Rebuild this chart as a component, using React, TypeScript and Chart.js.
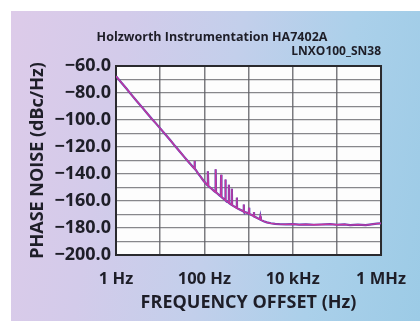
import { useEffect, useRef } from "react";
import { Chart, registerables } from "chart.js";

Chart.register(...registerables);

// Offset frequencies (Hz) of the measured trace
const freqHz = [
  1, 1.3, 1.7, 2.2, 3, 4, 5, 6.5, 8, 10, 13, 17, 22, 28, 35, 42, 50, 56, 59, 60, 61, 64, 72, 82, 95,
  108, 117, 120, 123, 135, 150, 165, 176, 180, 184, 200, 220, 236, 240, 244, 265, 290, 296, 300, 304,
  330, 355, 360, 365, 390, 415, 420, 425, 460, 540, 545, 550, 600, 700, 775, 780, 785, 900, 1020, 1030,
  1040, 1200, 1320, 1330, 1340, 1500, 1800, 1850, 1900, 2200, 2600, 3200, 4000, 5000, 7000, 10000,
  14000, 20000, 30000, 45000, 70000, 100000, 150000, 200000, 300000, 450000, 600000, 800000, 1000000,
];

// Single-sideband phase noise (dBc/Hz) at each offset
const phaseNoise = [
  -67.5, -72, -76.5, -81, -86.3, -91, -94.8, -99.3, -102.5, -106.2, -110.5, -115, -119.5, -123.5, -127.3,
  -130.4, -133.2, -135, -135.8, -130.4, -136.2, -137, -139.5, -142, -144.8,
  -147, -148.2, -138, -148.8, -150, -151.3, -152.5, -153.2, -136.5, -153.6, -154.6, -155.8, -156.6,
  -140.5, -157, -158, -159, -159.3, -144, -159.6,
  -160.5, -161.2, -148, -161.6, -162.2, -162.8, -151, -163.1, -163.8, -165.2, -157.5, -165.3, -166,
  -167, -167.8, -162.5, -168, -168.6, -169.3, -165, -169.5, -170.5, -171.3, -168.2, -171.5, -172.3,
  -173.6, -171.5, -174, -175, -175.8, -176.5, -176.9, -177.2, -177.3, -177.2, -177.5, -177.3, -177.6,
  -177.4, -177.2, -177.6, -177.3, -177.8, -177.5, -177.9, -177.3, -176.8, -176.5,
];

const xTickValues = [1, 10, 100, 1000, 10000, 100000, 1000000];
const xTickLabels = ["1 Hz", "", "100 Hz", "", "10 kHz", "", "1 MHz"];
const yTickValues = [-60, -80, -100, -120, -140, -160, -180, -200];
const yTickLabels = ["−60.0", "−80.0", "−100.0", "−120.0", "−140.0", "−160.0", "−180.0", "−200.0"];

const chartTitle = "Holzworth Instrumentation HA7402A";
const chartSubtitle = "LNXO100_SN38";
const yAxisTitle = "PHASE NOISE (dBc/Hz)";
const xAxisTitle = "FREQUENCY OFFSET (Hz)";

const FONT = "'Open Sans', 'DejaVu Sans', sans-serif";
const INK = "#1e1e28";

// White plot face, dark frame and the two header lines
const framePlugin = {
  id: "frame",
  beforeDraw(chart: any) {
    const { ctx, chartArea: a } = chart;
    ctx.save();
    ctx.fillStyle = "#fdfdfd";
    ctx.fillRect(a.left, a.top, a.right - a.left, a.bottom - a.top);
    ctx.restore();
  },
  beforeDatasetsDraw(chart: any) {
    const { ctx, chartArea: a } = chart;
    ctx.save();
    ctx.strokeStyle = "#2a2a2e";
    ctx.lineWidth = 2;
    ctx.strokeRect(a.left, a.top, a.right - a.left, a.bottom - a.top);
    ctx.restore();
  },
  afterDraw(chart: any) {
    const { ctx } = chart;
    ctx.save();
    ctx.fillStyle = INK;
    ctx.textBaseline = "middle";
    ctx.font = `bold 12.5px ${FONT}`;
    ctx.textAlign = "center";
    ctx.fillText(chartTitle, 212, 37);
    ctx.font = `bold 12px ${FONT}`;
    ctx.textAlign = "right";
    ctx.fillText(chartSubtitle, 381, 52);
    ctx.restore();
  },
};

export default function App() {
  const canvasRef = useRef<HTMLCanvasElement | null>(null);

  useEffect(() => {
    const canvas = canvasRef.current;
    if (!canvas) return;
    const points = freqHz.map((f, i) => ({ x: f, y: phaseNoise[i] }));
    const chart = new Chart(canvas, {
      type: "line",
      data: {
        datasets: [
          {
            data: points,
            borderColor: "#c8369f",
            borderWidth: 1.3,
            pointRadius: 0,
            tension: 0,
            order: 0,
          },
          {
            data: points,
            borderColor: "#5548b8",
            borderWidth: 2.2,
            pointRadius: 0,
            tension: 0,
            order: 1,
          },
        ],
      },
      options: {
        responsive: false,
        animation: false,
        devicePixelRatio: 1,
        layout: { padding: { left: 0, right: 34, top: 66, bottom: 0 } },
        plugins: { legend: { display: false }, tooltip: { enabled: false }, title: { display: false } },
        scales: {
          x: {
            type: "logarithmic",
            min: 1,
            max: 1000000,
            afterBuildTicks(scale: any) {
              scale.ticks = xTickValues.map((v) => ({ value: v, major: true }));
            },
            afterFit(scale: any) {
              scale.height = 66;
            },
            ticks: {
              autoSkip: false,
              maxRotation: 0,
              padding: 14,
              color: INK,
              font: { family: FONT, size: 16.5, weight: "bold" },
              callback: (_v: any, i: number) => xTickLabels[i],
            },
            grid: { color: "#7c7c80", lineWidth: 1.5, drawTicks: false },
            border: { display: false },
            title: {
              display: true,
              text: xAxisTitle,
              color: INK,
              font: { family: FONT, size: 18, weight: "bold" },
              padding: { top: 0, bottom: 7 },
            },
          },
          y: {
            type: "linear",
            min: -200,
            max: -60,
            afterFit(scale: any) {
              scale.width = 116;
            },
            ticks: {
              stepSize: 10,
              autoSkip: false,
              padding: 5,
              color: INK,
              font: { family: FONT, size: 18, weight: "bold" },
              callback: (v: any) => {
                const k = yTickValues.indexOf(Number(v));
                return k >= 0 ? yTickLabels[k] : "";
              },
            },
            grid: { color: "rgba(95,95,100,0.75)", lineWidth: 1.2, drawTicks: false },
            border: { display: false },
            title: {
              display: true,
              text: yAxisTitle,
              color: INK,
              font: { family: FONT, size: 18, weight: "bold" },
              padding: { top: 27, bottom: 0 },
            },
          },
        },
      },
      plugins: [framePlugin],
    });
    return () => chart.destroy();
  }, []);

  return (
    <div style={{ position: "fixed", left: 0, top: 0, width: 420, height: 321, background: "#ffffff", overflow: "hidden" }}>
      <div
        style={{
          position: "absolute",
          left: 11,
          top: 11,
          right: 0,
          bottom: 0,
          background: "linear-gradient(100deg, #ddcbe9 0%, #d3cbea 25%, #c3cfeb 50%, #abd0ea 75%, #9ccbe6 100%)",
        }}
      />
      <canvas ref={canvasRef} width={420} height={321} style={{ position: "absolute", left: 0, top: 0 }} />
    </div>
  );
}
